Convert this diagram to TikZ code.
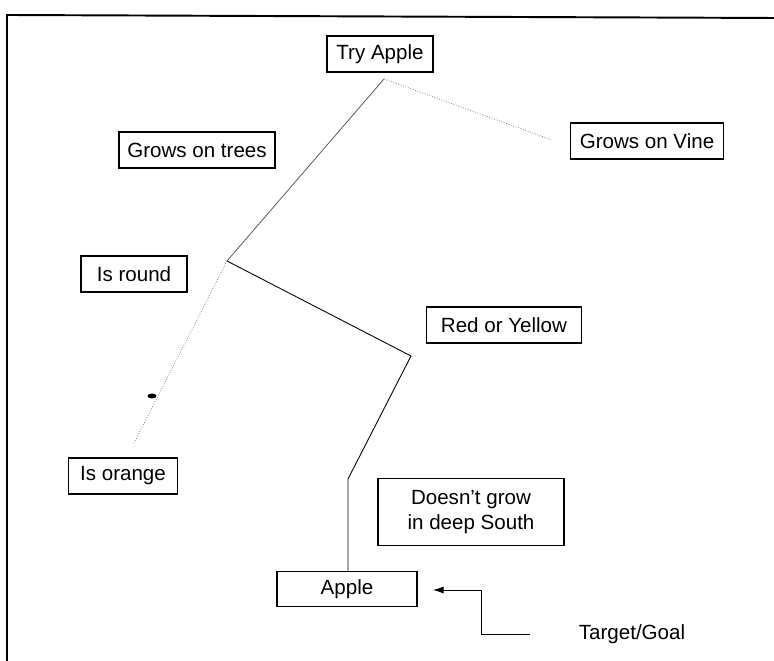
\documentclass[tikz,border=0pt]{standalone}
\usepackage{fontspec}
\setmainfont{Liberation Sans}
\usepackage{tikz}
\usetikzlibrary{arrows.meta, positioning, calc}
\tikzset{
	every node/.style={
		font=\fontsize{11.7}{14.2}\selectfont
	},
	question/.style={
		shape=rectangle,
		draw,
		line width=0.9pt,
		minimum height=0.72cm,
		inner sep=2pt,
		align=center
	},
	branch/.style={
		draw,
		line width=0.5pt
	},
	faint/.style={
		draw,
		gray,
		line width=0.45pt,
		densely dotted
	}
}

\begin{document}
\begin{tikzpicture}[x=0.02cm, y=-0.02cm]
	\useasboundingbox (0,0) rectangle (774,661);
	
	% frame
	\draw[line width=1.1pt] (7,661) -- (7,15) -- (774,18);
	
	\node[question, minimum width=2.12cm] (tryapple) at (380,54) {Try Apple};
	\node[question, minimum width=3.12cm] (trees) at (197,150) {Grows on trees};
	\node[question, minimum width=3.06cm] (vine) at (647,141) {Grows on Vine};
	\node[question, minimum width=2.12cm] (round) at (134,274) {Is round};
	\node[question, minimum width=3.1cm] (redyellow) at (504,325) {Red or Yellow};
	\node[question, minimum width=2.18cm] (orange) at (123,476) {Is orange};
	\node[question, minimum width=3.72cm, minimum height=1.34cm] (south) at (471,512) {Doesn't grow\\in deep South};
	\node[question, minimum width=2.8cm, minimum height=0.7cm] (apple) at (347,589) {Apple};
	\node (goal) at (632,634) {Target/Goal};
	
	\coordinate (apex) at (384,79);
	\coordinate (vineend) at (552,140);
	\coordinate (fork) at (227,261);
	\coordinate (orangeend) at (134,443);
	\coordinate (bendA) at (411,356);
	\coordinate (bendB) at (348,479);
	\coordinate (goalstart) at (530,634);
	\coordinate (goalcorner) at (481,590);
	\coordinate (tip) at (433,590);
	
	\draw[branch, gray!70!black, line width=0.45pt] (apex) -- (fork);
	\draw[faint] (apex) -- (vineend);
	\draw[faint] (fork) -- (orangeend);
	\draw[branch] (fork) -- (bendA) -- (bendB) -- (bendB |- apple.north);
	\fill (152,396) ellipse [x radius=0.09cm, y radius=0.05cm];
	
	\draw[line width=0.5pt, -{Latex[length=6pt, width=4pt]}] (goalstart) -| (goalcorner) -- (tip);
	
\end{tikzpicture}
\end{document}
